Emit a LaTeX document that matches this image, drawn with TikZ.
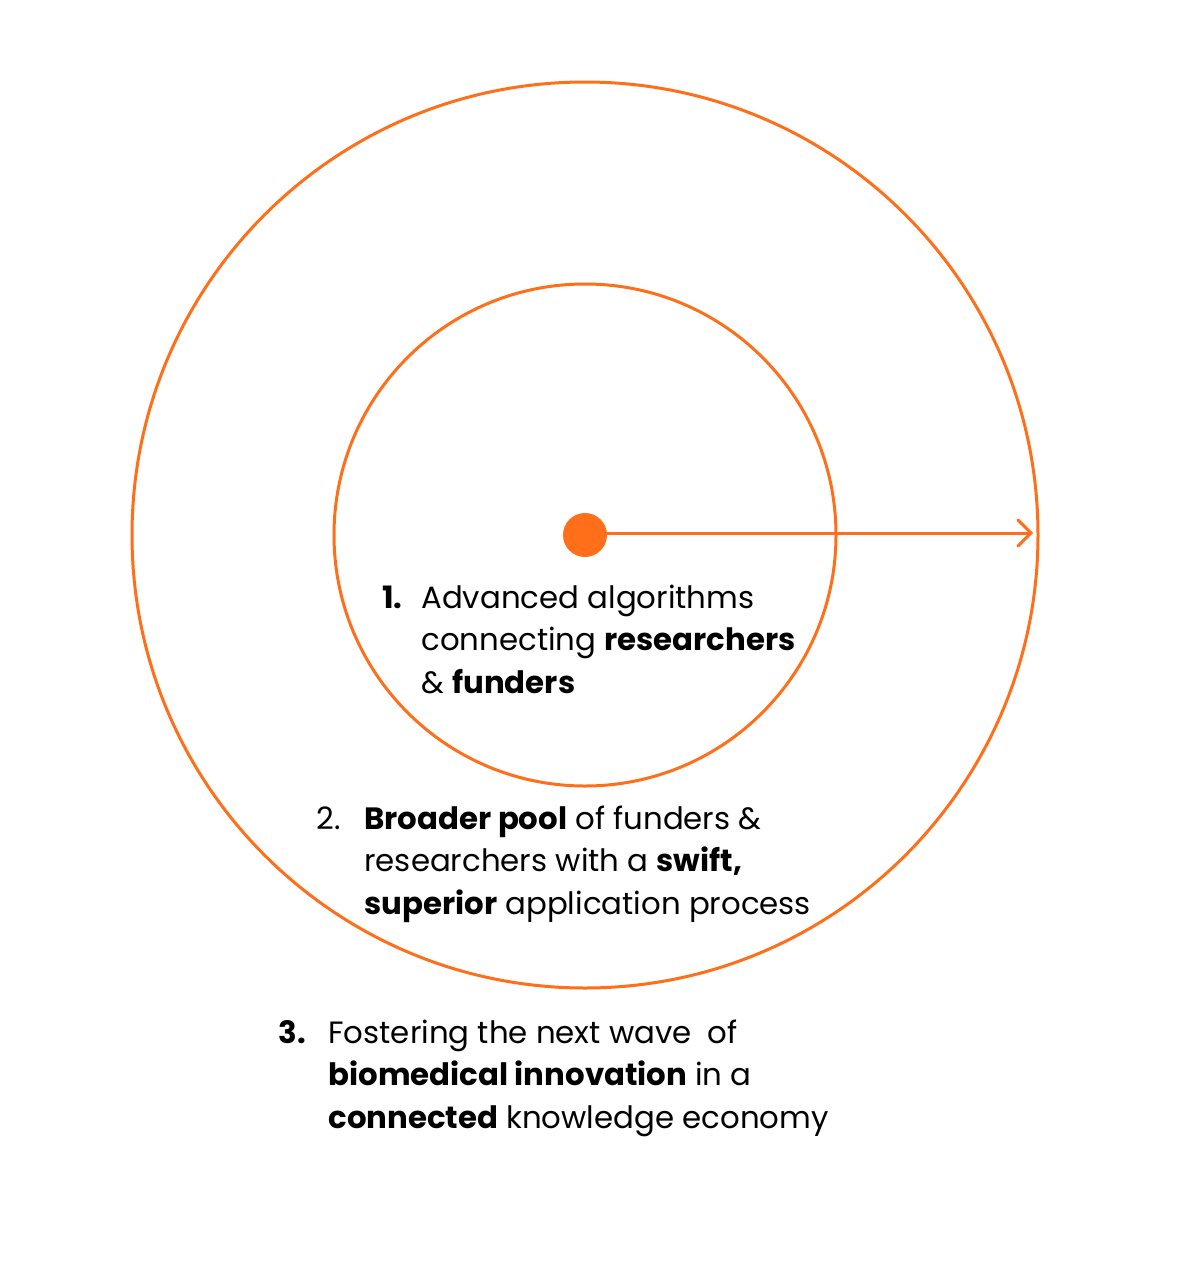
\documentclass[tikz,border=0pt]{standalone}
\usepackage{fontspec}
\setmainfont{Poppins}
\usetikzlibrary{arrows.meta,positioning}
\definecolor{ring}{RGB}{255,111,26}
\begin{document}
\begin{tikzpicture}[x=0.5pt,y=-0.5pt,
		ringline/.style={draw=ring,line width=1.5pt},
		itemnum/.style={anchor=base west,inner sep=0pt,font=\fontsize{15.4}{21.25}\selectfont},
		itemtext/.style={anchor=base west,inner sep=0pt,font=\fontsize{15.4}{21.25}\selectfont}]
		\useasboundingbox (0,0) rectangle (1180,1274);
		
		\draw[ringline] (585,535) circle[radius=453];  % outer ring
		\draw[ringline] (585,535) circle[radius=251];  % inner ring
		
		\node[circle,fill=ring,inner sep=0pt,minimum size=22pt] (core) at (585,535) {};
		\coordinate (tip) at (1033,533);
		\draw[ringline,-{Straight Barb[length=6.5pt,width=13pt,line cap=round]}] (core.center |- tip) -- (tip);
		
		\node[itemnum] (num1) at (382,608) {\textbf{1.}};
		\node[itemtext] (text1) at (421,608) {\parbox[t]{200pt}{Advanced algorithms\\connecting \textbf{researchers}\\\& \textbf{funders}}};
		
		\node[itemnum] (num2) at (316,829) {2.};
		\node[itemtext] (text2) at (364,829) {\parbox[t]{260pt}{\textbf{Broader pool} of funders \&\\researchers with a \textbf{swift,}\\\textbf{superior} application process}};
		
		\node[itemnum] (num3) at (278,1043) {\textbf{3.}};
		\node[itemtext] (text3) at (328,1043) {\parbox[t]{280pt}{Fostering the next wave~ of\\\textbf{biomedical innovation} in a\\\textbf{connected} knowledge economy}};
\end{tikzpicture}
\end{document}
